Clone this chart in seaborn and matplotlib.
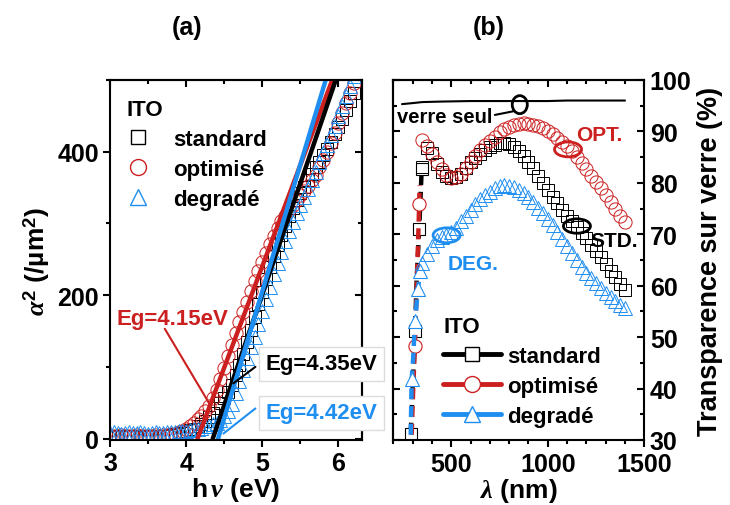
import matplotlib
matplotlib.use('Agg')
import matplotlib.pyplot as plt
from matplotlib.lines import Line2D
from matplotlib.patches import Ellipse
from matplotlib.ticker import MultipleLocator
import seaborn as sns

# ---------------- data ----------------
# (a) alpha^2 vs photon energy
hv = [3.00, 3.05, 3.10, 3.15, 3.20, 3.25, 3.30, 3.35, 3.40, 3.45, 3.50, 3.55, 3.60,
      3.65, 3.70, 3.75, 3.80, 3.85, 3.90, 3.95, 4.00, 4.05, 4.10, 4.15, 4.20, 4.25,
      4.30, 4.35, 4.40, 4.45, 4.50, 4.55, 4.60, 4.65, 4.70, 4.75, 4.80, 4.85, 4.90,
      4.95, 5.00, 5.05, 5.10, 5.15, 5.20, 5.25, 5.30, 5.35, 5.40, 5.45, 5.50, 5.55,
      5.60, 5.65, 5.70, 5.75, 5.80, 5.85, 5.90, 5.95, 6.00, 6.05, 6.10, 6.15, 6.20]
a2_std = [3, 4, 3, 2, 3, 4, 3, 3, 2, 3, 4, 3, 3, 4, 3, 4, 5, 6, 7, 8,
          10, 12, 14, 17, 20, 25, 30, 36, 42, 49, 57, 65, 75, 88, 102, 118, 135, 152,
          170, 188, 205, 222, 239, 255, 270, 284, 297, 310, 322, 332, 342, 351, 360,
          369, 378, 386, 395, 404, 413, 424, 435, 446, 458, 470, 482]
a2_opt = [4, 3, 4, 5, 4, 3, 4, 5, 4, 4, 3, 4, 5, 4, 5, 5, 6, 7, 9, 11,
          14, 18, 22, 27, 32, 38, 45, 56, 68, 83, 99, 115, 130, 147, 163, 177, 191, 206,
          220, 233, 246, 259, 271, 283, 294, 303, 311, 318, 325, 332, 339, 345, 352,
          360, 368, 378, 388, 400, 412, 426, 440, 454, 468, 482, 496]
a2_deg = [8, 9, 8, 7, 8, 9, 8, 8, 9, 8, 7, 8, 9, 8, 8, 9, 9, 9, 10, 10,
          11, 12, 13, 14, 15, 17, 18, 20, 22, 26, 31, 38, 48, 63, 80, 96, 112, 127,
          142, 160, 178, 195, 212, 229, 245, 260, 275, 289, 302, 314, 325, 337, 348,
          360, 372, 385, 398, 410, 423, 436, 450, 464, 478, 492, 506]
# linear fits: gap energy (x at alpha^2 = 0) and upper end of each fit line
eg = [4.35, 4.15, 4.42]
fit_top_x = [6.03, 5.99, 5.89]
fit_top_y = [520, 520, 520]

# (b) transmittance vs wavelength
lam = [350, 375, 400, 425, 450, 475, 500, 525, 550, 575, 600, 625, 650, 675, 700,
       725, 750, 775, 800, 825, 850, 875, 900, 925, 950, 975, 1000, 1025, 1050,
       1075, 1100, 1125, 1150, 1175, 1200, 1225, 1250, 1275, 1300, 1325, 1350,
       1375, 1400]
t_std = [83.0, 86.8, 85.8, 83.6, 82.2, 81.4, 81.0, 81.2, 81.8, 82.8, 84.0, 84.9,
         85.7, 86.4, 87.0, 87.4, 87.7, 87.8, 87.5, 87.0, 86.2, 85.3, 84.1, 82.8,
         81.4, 80.0, 78.6, 77.3, 76.0, 74.8, 73.6, 72.5, 71.4, 70.3, 69.2, 68.0,
         66.8, 65.5, 64.2, 62.9, 61.6, 60.4, 59.2]
t_opt = [88.3, 87.2, 85.6, 84.0, 82.6, 81.6, 81.0, 81.1, 81.8, 82.8, 84.0, 85.2,
         86.3, 87.3, 88.2, 89.0, 89.8, 90.4, 90.9, 91.2, 91.5, 91.6, 91.5, 91.3,
         91.0, 90.6, 90.1, 89.5, 88.8, 88.0, 87.1, 86.1, 85.0, 83.9, 82.7, 81.4,
         80.1, 78.9, 77.6, 76.3, 75.0, 73.6, 72.3]
t_deg = [64.5, 66.2, 67.8, 68.8, 69.4, 69.8, 70.4, 71.3, 72.5, 73.6, 74.8, 75.8,
         76.8, 77.6, 78.3, 78.9, 79.3, 79.5, 79.4, 79.1, 78.6, 78.0, 77.2, 76.2,
         75.2, 74.1, 73.0, 71.8, 70.5, 69.1, 67.7, 66.4, 65.0, 63.7, 62.5, 61.5,
         60.5, 59.5, 58.6, 57.8, 57.0, 56.3, 55.6]
# absorption edge (UV) part, drawn as line + symbols
lam_uv_std = [290, 300, 306, 312, 322, 334, 347]
t_uv_std = [31.2, 40.0, 45.0, 51.2, 62.0, 71.1, 82.6]
lam_uv_opt = [295, 303, 312, 320, 327, 334, 336]
t_uv_opt = [31.0, 40.0, 48.3, 58.0, 67.0, 75.8, 79.5]
lam_uv_deg = [290, 295, 303, 312, 322, 329, 336]
t_uv_deg = [31.0, 41.8, 46.0, 53.2, 57.0, 59.3, 62.9]
# bare glass reference
lam_glass = [245, 300, 350, 450, 600, 800, 1000, 1100, 1200, 1400]
t_glass = [95.3, 95.5, 95.7, 95.8, 95.9, 95.9, 95.9, 96.0, 96.0, 96.0]

labels = ['standard', 'optimisé', 'degradé']

BLACK = '#000000'
RED = '#cc1f1f'
BLUE = '#1f8ef1'
colors = [BLACK, RED, BLUE]
markers = ['s', 'o', '^']
msizes = [8.5, 9.5, 10]

# ---------------- style ----------------
sns.set_style('ticks')
plt.rcParams['font.family'] = ['Liberation Sans', 'DejaVu Sans']
plt.rcParams['font.weight'] = 'bold'
plt.rcParams['axes.labelweight'] = 'bold'
plt.rcParams['mathtext.fontset'] = 'custom'
plt.rcParams['mathtext.rm'] = 'Liberation Sans:bold'
plt.rcParams['mathtext.bf'] = 'Liberation Sans:bold'
plt.rcParams['mathtext.it'] = 'Liberation Serif:italic'
plt.rcParams['axes.linewidth'] = 1.5
for key in ['text.color', 'axes.labelcolor', 'xtick.color', 'ytick.color',
            'axes.edgecolor']:
    plt.rcParams[key] = 'black'

FS = 18      # tick labels
FL = 19      # axis labels

fig = plt.figure(figsize=(7.3, 5.06), dpi=100)
ax1 = fig.add_axes([0.1507, 0.1285, 0.3452, 0.7115])
ax2 = fig.add_axes([0.5388, 0.1285, 0.3438, 0.7115])

# ---------------- panel (a) ----------------
for y, mk, col, ms in zip([a2_std, a2_opt, a2_deg], markers, colors, msizes):
    sns.lineplot(x=hv, y=y, ax=ax1, marker=mk, linestyle='none', color=col,
                 mfc='none', mec=col, mew=0.7, ms=ms, sort=False,
                 estimator=None, legend=False)

for i in [1, 0, 2]:
    sns.lineplot(x=[eg[i], fit_top_x[i]], y=[0, fit_top_y[i]], ax=ax1,
                 color=colors[i], lw=3.2, sort=False, estimator=None, legend=False)

ax1.set_xlim(3, 6.31)
ax1.set_ylim(-2, 500)
ax1.xaxis.set_major_locator(MultipleLocator(1))
ax1.xaxis.set_minor_locator(MultipleLocator(0.5))
ax1.yaxis.set_major_locator(MultipleLocator(200))
ax1.yaxis.set_minor_locator(MultipleLocator(100))
ax1.tick_params(which='both', direction='out', width=1.5, labelsize=FS, pad=3)
ax1.tick_params(which='major', length=5)
ax1.tick_params(which='minor', length=3)
for side in ['top', 'right']:
    if side == 'top':
        sec = ax1.secondary_xaxis('top')
        sec.xaxis.set_major_locator(MultipleLocator(1))
        sec.xaxis.set_minor_locator(MultipleLocator(0.5))
        sec.tick_params(labeltop=False)
    else:
        sec = ax1.secondary_yaxis('right')
        sec.yaxis.set_major_locator(MultipleLocator(200))
        sec.yaxis.set_minor_locator(MultipleLocator(100))
        sec.tick_params(labelright=False)
    sec.tick_params(which='both', direction='in', width=1.5)
    sec.tick_params(which='major', length=5)
    sec.tick_params(which='minor', length=3)
for lab in ax1.get_xticklabels() + ax1.get_yticklabels():
    lab.set_fontweight('bold')

ax1.set_xlabel(r'h$\,\nu$ (eV)', fontsize=FL, fontweight='bold', labelpad=0)
ax1.set_ylabel(r'$\alpha^{2}$ (/µm$^{2}$)', fontsize=FL, fontweight='bold', labelpad=4)

# gap annotations
ax1.text(3.82, 168, 'Eg=4.15eV', color=RED, fontsize=16, fontweight='bold',
         ha='center', va='center', zorder=10)
ax1.plot([3.72, 4.32], [153, 46], color=RED, lw=1.5, zorder=9)
ax1.text(5.78, 104, 'Eg=4.35eV', color=BLACK, fontsize=16, fontweight='bold',
         ha='center', va='center', zorder=10, clip_on=False,
         bbox=dict(boxstyle='square,pad=0.3', fc='white', ec='#dcdcdc', lw=1))
ax1.plot([4.91, 4.62], [100, 77], color=BLACK, lw=1.5, zorder=9)
ax1.text(5.78, 36, 'Eg=4.42eV', color=BLUE, fontsize=16, fontweight='bold',
         ha='center', va='center', zorder=10, clip_on=False,
         bbox=dict(boxstyle='square,pad=0.3', fc='white', ec='#dcdcdc', lw=1))
ax1.plot([4.91, 4.49], [42, 7], color=BLUE, lw=1.5, zorder=9)

h_a = [Line2D([], [], linestyle='none', marker=m, mfc='none', mec=c, mew=1.0, ms=s + 2)
       for m, c, s in zip(markers, colors, msizes)]
ax1.legend(h_a, labels, title='ITO', loc='upper left',
           bbox_to_anchor=(0.067, 0.947), frameon=False, fontsize=16,
           title_fontproperties={'weight': 'bold', 'size': 16},
           alignment='left', handlelength=1.0, handletextpad=1.1,
           labelspacing=0.4, borderpad=0, borderaxespad=0)

# ---------------- panel (b) ----------------
sns.lineplot(x=lam_glass, y=t_glass, ax=ax2, color=BLACK, lw=1.5, sort=False,
             estimator=None, legend=False)

uv = [(lam_uv_std, t_uv_std, [0, 3, 5, 6]), (lam_uv_opt, t_uv_opt, [2, 5]),
      (lam_uv_deg, t_uv_deg, [1, 3, 5, 6])]
for (lx, ty, mev), mk, col, ms in zip(uv, markers, colors, msizes):
    sns.lineplot(x=lx, y=ty, ax=ax2, color=col, lw=3.2, dashes=(2.5, 1.5),
                 marker=mk, markevery=mev, mfc='white', mec=col, mew=0.8, ms=ms,
                 sort=False, estimator=None, legend=False)

for y, mk, col, ms in zip([t_std, t_opt, t_deg], markers, colors, msizes):
    sns.lineplot(x=lam, y=y, ax=ax2, marker=mk, linestyle='none', color=col,
                 mfc='none', mec=col, mew=0.7, ms=ms, sort=False,
                 estimator=None, legend=False)

# highlight ellipses and labels
ax2.add_patch(Ellipse((855, 95.2), 78, 3.5, fill=False, ec=BLACK, lw=2, zorder=6))
ax2.plot([726, 820], [93.2, 93.9], color=BLACK, lw=1.5, zorder=6)
ax2.text(467, 92.8, 'verre seul', color=BLACK, fontsize=14.5, fontweight='bold',
         ha='center', va='center', zorder=7)
ax2.add_patch(Ellipse((1105, 86.5), 140, 2.9, fill=False, ec=RED, lw=2, zorder=6))
ax2.text(1269, 89.4, 'OPT.', color=RED, fontsize=15, fontweight='bold',
         ha='center', va='center', zorder=7)
ax2.add_patch(Ellipse((1151, 71.6), 140, 2.8, fill=False, ec=BLACK, lw=2, zorder=6))
ax2.text(1346, 68.7, 'STD.', color=BLACK, fontsize=15, fontweight='bold',
         ha='center', va='center', zorder=7)
ax2.add_patch(Ellipse((476, 69.8), 140, 2.9, fill=False, ec=BLUE, lw=2, zorder=6))
ax2.text(614, 64.4, 'DEG.', color=BLUE, fontsize=15, fontweight='bold',
         ha='center', va='center', zorder=7)

ax2.set_xlim(200, 1500)
ax2.set_ylim(30, 100)
ax2.xaxis.set_major_locator(MultipleLocator(500))
ax2.xaxis.set_minor_locator(MultipleLocator(100))
ax2.yaxis.set_major_locator(MultipleLocator(10))
ax2.yaxis.set_minor_locator(MultipleLocator(5))
ax2.yaxis.tick_right()
ax2.yaxis.set_label_position('right')
ax2.tick_params(which='both', direction='in', width=1.5, labelsize=FS, pad=4)
ax2.tick_params(axis='x', which='both', direction='out')
ax2.tick_params(which='major', length=5)
ax2.tick_params(which='minor', length=3)
sec = ax2.secondary_xaxis('top')
sec.xaxis.set_major_locator(MultipleLocator(500))
sec.xaxis.set_minor_locator(MultipleLocator(100))
sec.tick_params(which='both', direction='in', width=1.5, labeltop=False)
sec.tick_params(which='major', length=5)
sec.tick_params(which='minor', length=3)
sec = ax2.secondary_yaxis('left')
sec.yaxis.set_major_locator(MultipleLocator(10))
sec.yaxis.set_minor_locator(MultipleLocator(5))
sec.tick_params(which='both', direction='in', width=1.5, labelleft=False)
sec.tick_params(which='major', length=5)
sec.tick_params(which='minor', length=3)
for lab in ax2.get_xticklabels() + ax2.get_yticklabels():
    lab.set_fontweight('bold')

ax2.set_xlabel(r'$\lambda$ (nm)', fontsize=FL, fontweight='bold', labelpad=0)
ax2.set_ylabel('Transparence sur verre (%)', fontsize=19.5, fontweight='bold',
               labelpad=4)

h_b = [Line2D([], [], color=c, lw=3.5, marker=m, mfc='white', mec=c, mew=1.0, ms=s + 2)
       for m, c, s in zip(markers, colors, msizes)]
ax2.legend(h_b, labels, title='ITO', loc='upper left', bbox_to_anchor=(0.198, 0.344),
           frameon=False, fontsize=16, title_fontproperties={'weight': 'bold', 'size': 16},
           alignment='left', handlelength=2.6, handletextpad=0.3, labelspacing=0.4,
           borderpad=0, borderaxespad=0)

fig.text(187 / 730, 1 - 28 / 506, '(a)', fontsize=FS, fontweight='bold',
         ha='center', va='center')
fig.text(489 / 730, 1 - 28 / 506, '(b)', fontsize=FS, fontweight='bold',
         ha='center', va='center')

fig.savefig('out.png', dpi=100)
